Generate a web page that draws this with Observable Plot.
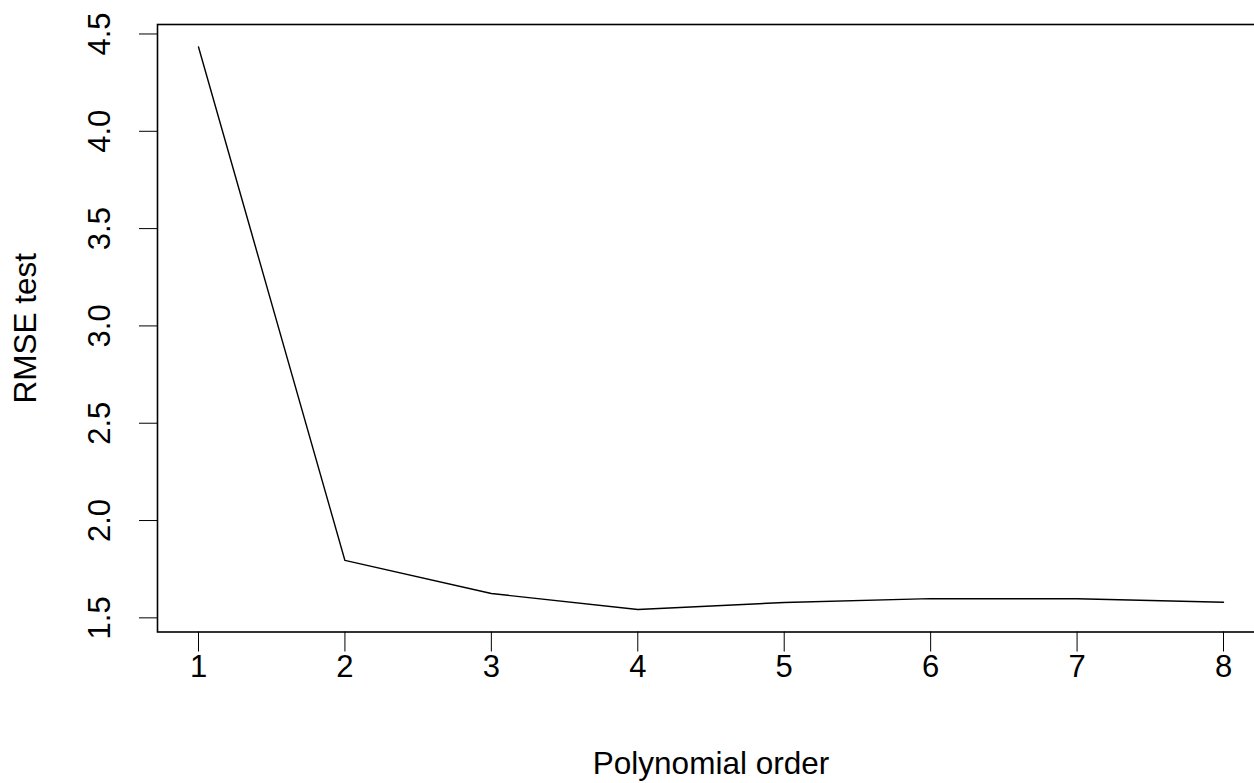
<!DOCTYPE html>
<html>
<head>
<meta charset="utf-8">
<script src="https://cdn.jsdelivr.net/npm/d3@7"></script>
<script src="https://cdn.jsdelivr.net/npm/@observablehq/plot@0.6"></script>
<style>
  html, body { margin: 0; padding: 0; background: white; overflow: hidden; }
</style>
</head>
<body>
<div id="chart"></div>
<script>
const orders = [1, 2, 3, 4, 5, 6, 7, 8];
const rmse = [4.433, 1.795, 1.625, 1.543, 1.579, 1.599, 1.598, 1.580];
const xTicks = [1, 2, 3, 4, 5, 6, 7, 8];
const yTicks = [1.5, 2.0, 2.5, 3.0, 3.5, 4.0, 4.5];
const xTitle = "Polynomial order";
const yTitle = "RMSE test";

const data = orders.map((o, i) => ({order: o, rmse: rmse[i]}));

const chart = Plot.plot({
  width: 1254,
  height: 783,
  marginLeft: 157,
  marginRight: -10,
  marginTop: 24,
  marginBottom: 151.5,
  style: {fontFamily: "'Liberation Sans', Arial, sans-serif", fontSize: "31px", color: "black", background: "white", overflow: "hidden"},
  x: {domain: [0.72, 8.28]},
  y: {domain: [1.4273, 4.5487]},
  marks: [
    Plot.frame({stroke: "black", strokeWidth: 1.6}),
    Plot.axisX({ticks: xTicks, tickSize: 20, tickPadding: 3, tickFormat: d => String(d), label: null, fontSize: 31}),
    Plot.axisY({ticks: yTicks, tickSize: 18, tickPadding: 30, tickRotate: -90, tickFormat: d => d.toFixed(1), label: null, fontSize: 31}),
    Plot.line(data, {x: "order", y: "rmse", stroke: "black", strokeWidth: 1.4}),
    Plot.text([xTitle], {frameAnchor: "bottom", dy: 132, text: d => d, fontSize: 31.5, lineAnchor: "middle", textAnchor: "middle"}),
    Plot.text([yTitle], {frameAnchor: "left", dx: -132, rotate: -90, text: d => d, fontSize: 31.5, lineAnchor: "middle", textAnchor: "middle"})
  ]
});
document.getElementById("chart").appendChild(chart);
</script>
</body>
</html>
